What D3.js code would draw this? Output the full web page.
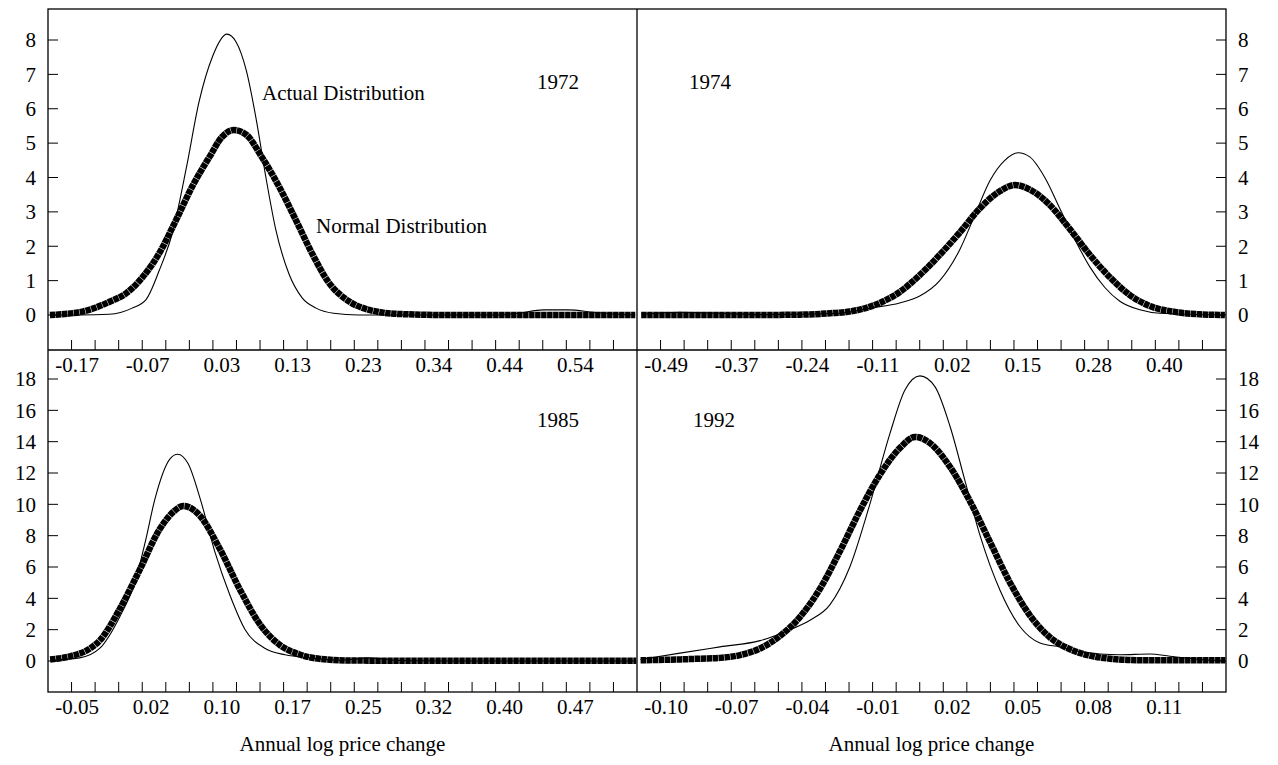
<!DOCTYPE html>
<html>
<head>
<meta charset="utf-8">
<script src="https://cdn.jsdelivr.net/npm/d3@7"></script>
<style>
  body { margin: 0; background: #fff; }
  svg text { font-family: "Liberation Serif", "Times New Roman", serif; font-size: 21px; fill: #000; }
</style>
</head>
<body>
<svg id="chart" width="1278" height="765"></svg>
<script>
// tick labels of the four x axes
const xLabels1972 = ['-0.17', '-0.07', '0.03', '0.13', '0.23', '0.34', '0.44', '0.54'];
const xLabels1974 = ['-0.49', '-0.37', '-0.24', '-0.11', '0.02', '0.15', '0.28', '0.40'];
const xLabels1985 = ['-0.05', '0.02', '0.10', '0.17', '0.25', '0.32', '0.40', '0.47'];
const xLabels1992 = ['-0.10', '-0.07', '-0.04', '-0.01', '0.02', '0.05', '0.08', '0.11'];
const yTicksTop = [0, 1, 2, 3, 4, 5, 6, 7, 8];
const yTicksBottom = [0, 2, 4, 6, 8, 10, 12, 14, 16, 18];

// [annual log price change, density]
const actual1972 = [[-0.214,0],[-0.171,0],[-0.129,0.02],[-0.096,0.2],[-0.076,0.45],[-0.057,1.3],[-0.038,2.4],[-0.018,4.3],[0.000,6.2],[0.019,7.5],[0.040,8.17],[0.053,7.95],[0.068,7.1],[0.082,5.7],[0.096,4.0],[0.110,2.5],[0.129,1.2],[0.148,0.5],[0.168,0.2],[0.193,0.05],[0.229,0],[0.430,0],[0.458,0.05],[0.494,0.15],[0.530,0.15],[0.566,0.08],[0.601,0.02],[0.626,0]];
const normal1972 = [[-0.214,0],[-0.167,0.1],[-0.129,0.38],[-0.104,0.64],[-0.081,1.1],[-0.057,1.8],[-0.033,2.76],[-0.010,3.73],[0.015,4.6],[0.033,5.18],[0.050,5.38],[0.068,5.24],[0.090,4.6],[0.115,3.73],[0.139,2.76],[0.162,1.8],[0.186,0.95],[0.215,0.4],[0.244,0.15],[0.287,0.03],[0.358,0],[0.626,0]];
const actual1974 = [[-0.541,0.02],[-0.471,0.08],[-0.399,0.05],[-0.328,0.01],[-0.184,0.05],[-0.130,0.2],[-0.076,0.35],[-0.040,0.55],[-0.004,1.0],[0.032,1.9],[0.059,2.9],[0.086,3.9],[0.113,4.5],[0.137,4.72],[0.158,4.6],[0.185,4.0],[0.212,3.1],[0.239,2.2],[0.266,1.4],[0.293,0.8],[0.320,0.4],[0.356,0.15],[0.392,0.05],[0.509,0]];
const normal1974 = [[-0.541,0],[-0.436,0],[-0.328,0],[-0.256,0.01],[-0.201,0.05],[-0.166,0.1],[-0.112,0.35],[-0.076,0.67],[-0.040,1.16],[-0.004,1.75],[0.032,2.4],[0.068,3.1],[0.104,3.6],[0.131,3.78],[0.158,3.65],[0.194,3.2],[0.230,2.5],[0.266,1.75],[0.302,1.1],[0.338,0.58],[0.374,0.26],[0.419,0.09],[0.464,0.02],[0.509,0]];
const actual1985 = [[-0.082,0.05],[-0.051,0.2],[-0.030,0.8],[-0.009,2.8],[0.007,5.0],[0.018,7.6],[0.028,10.3],[0.044,12.9],[0.052,13.2],[0.063,12.6],[0.076,10.3],[0.091,7.0],[0.107,4.2],[0.123,2.0],[0.144,0.8],[0.165,0.4],[0.191,0.2],[0.223,0.05],[0.238,0.12],[0.252,0.2],[0.265,0.15],[0.286,0.03],[0.328,0],[0.534,0]];
const normal1985 = [[-0.082,0.1],[-0.061,0.3],[-0.040,0.8],[-0.030,1.3],[-0.009,3.3],[0.012,5.8],[0.033,8.4],[0.049,9.6],[0.058,9.9],[0.075,9.3],[0.096,7.2],[0.118,4.5],[0.139,2.3],[0.160,1.0],[0.181,0.4],[0.202,0.13],[0.233,0.03],[0.286,0.02],[0.534,0.02]];
const actual1992 = [[-0.1123,0.1],[-0.0956,0.5],[-0.0786,0.9],[-0.0616,1.3],[-0.0489,2.0],[-0.0404,2.6],[-0.0319,3.6],[-0.0235,6.0],[-0.0150,10.0],[-0.0065,14.5],[-0.0001,17.3],[0.0063,18.2],[0.0127,17.5],[0.0190,15.0],[0.0254,11.5],[0.0318,8.0],[0.0403,4.5],[0.0487,2.2],[0.0572,1.15],[0.0657,0.9],[0.0742,0.6],[0.0827,0.45],[0.0912,0.4],[0.1039,0.45],[0.1124,0.3],[0.1252,0.1],[0.1359,0.02]];
const normal1992 = [[-0.1123,0.05],[-0.0956,0.1],[-0.0871,0.15],[-0.0786,0.2],[-0.0701,0.38],[-0.0616,0.8],[-0.0531,1.6],[-0.0447,2.8],[-0.0362,4.6],[-0.0277,7.0],[-0.0192,9.6],[-0.0107,11.9],[-0.0022,13.6],[0.0042,14.3],[0.0106,13.9],[0.0190,12.4],[0.0275,10.2],[0.0360,7.6],[0.0445,5.0],[0.0530,2.9],[0.0615,1.5],[0.0700,0.75],[0.0784,0.34],[0.0869,0.15],[0.0996,0.05],[0.1359,0.05]];

const svg = d3.select('#chart');
const L = 48, MID = 637, R = 1226, TOP = 9, AX1 = 350, AX2 = 692;

const yTop = d3.scaleLinear().domain([0, 8]).range([315, 40]);
const yBot = d3.scaleLinear().domain([0, 18]).range([661, 379]);

const panels = [
  { year: '1972', x0: L, x1: MID, axisY: AX1, y: yTop, yTicks: yTicksTop, labels: xLabels1972, actual: actual1972, normal: normal1972, side: 'left', yearAt: [537, 89] },
  { year: '1974', x0: MID, x1: R, axisY: AX1, y: yTop, yTicks: yTicksTop, labels: xLabels1974, actual: actual1974, normal: normal1974, side: 'right', yearAt: [689, 89] },
  { year: '1985', x0: L, x1: MID, axisY: AX2, y: yBot, yTicks: yTicksBottom, labels: xLabels1985, actual: actual1985, normal: normal1985, side: 'left', yearAt: [537, 427] },
  { year: '1992', x0: MID, x1: R, axisY: AX2, y: yBot, yTicks: yTicksBottom, labels: xLabels1992, actual: actual1992, normal: normal1992, side: 'right', yearAt: [693, 427] }
];

panels.forEach(p => {
  const w = (p.x1 - p.x0) / 25;
  const labelX = i => p.x0 + (1 + 3 * i) * w + 9;
  const x = d3.scaleLinear()
    .domain([+p.labels[0], +p.labels[p.labels.length - 1]])
    .range([labelX(0), labelX(p.labels.length - 1)]);
  const g = svg.append('g');

  // x ticks, pointing up from the axis line
  g.selectAll('.xt').data(d3.range(1, 25)).enter().append('line')
    .attr('x1', k => p.x0 + k * w).attr('x2', k => p.x0 + k * w)
    .attr('y1', p.axisY - 10).attr('y2', p.axisY)
    .attr('stroke', '#000').attr('stroke-width', 1);

  g.selectAll('.xl').data(p.labels).enter().append('text')
    .attr('x', (d, i) => labelX(i) - (d[0] === '-' ? 3.5 : 0))
    .attr('y', p.axisY + 22)
    .attr('text-anchor', 'middle')
    .text(d => d);

  // y ticks, pointing inward
  const ax = p.side === 'left' ? p.x0 : p.x1;
  const dir = p.side === 'left' ? 1 : -1;
  g.selectAll('.yt').data(p.yTicks).enter().append('line')
    .attr('x1', ax).attr('x2', ax + dir * 10)
    .attr('y1', d => p.y(d)).attr('y2', d => p.y(d))
    .attr('stroke', '#000').attr('stroke-width', 1);
  g.selectAll('.yl').data(p.yTicks).enter().append('text')
    .attr('x', p.side === 'left' ? 36 : 1238)
    .attr('y', d => p.y(d))
    .attr('dy', '0.35em')
    .attr('text-anchor', p.side === 'left' ? 'end' : 'start')
    .text(d => d);

  const line = d3.line().x(d => x(d[0])).y(d => p.y(d[1])).curve(d3.curveMonotoneX);

  g.append('path').datum(p.normal)
    .attr('d', line)
    .attr('fill', 'none').attr('stroke', '#000').attr('stroke-width', 6.5)
    .attr('stroke-dasharray', '5.5,0.5');
  g.append('path').datum(p.actual)
    .attr('d', line)
    .attr('fill', 'none').attr('stroke', '#000').attr('stroke-width', 1.1);

  g.append('text').attr('x', p.yearAt[0]).attr('y', p.yearAt[1]).text(p.year);
});

// frame
const frame = svg.append('g').attr('stroke', '#000').attr('stroke-width', 1.3).attr('fill', 'none');
frame.append('rect').attr('x', L).attr('y', TOP).attr('width', R - L).attr('height', AX2 - TOP);
frame.append('line').attr('x1', L).attr('x2', R).attr('y1', AX1).attr('y2', AX1);
frame.append('line').attr('x1', MID).attr('x2', MID).attr('y1', TOP).attr('y2', AX2);

svg.append('text').attr('x', 262).attr('y', 100).text('Actual Distribution');
svg.append('text').attr('x', 316).attr('y', 233).text('Normal Distribution');

svg.append('text').attr('x', (L + MID) / 2).attr('y', 751).attr('text-anchor', 'middle').text('Annual log price change');
svg.append('text').attr('x', (MID + R) / 2).attr('y', 751).attr('text-anchor', 'middle').text('Annual log price change');
</script>
</body>
</html>
